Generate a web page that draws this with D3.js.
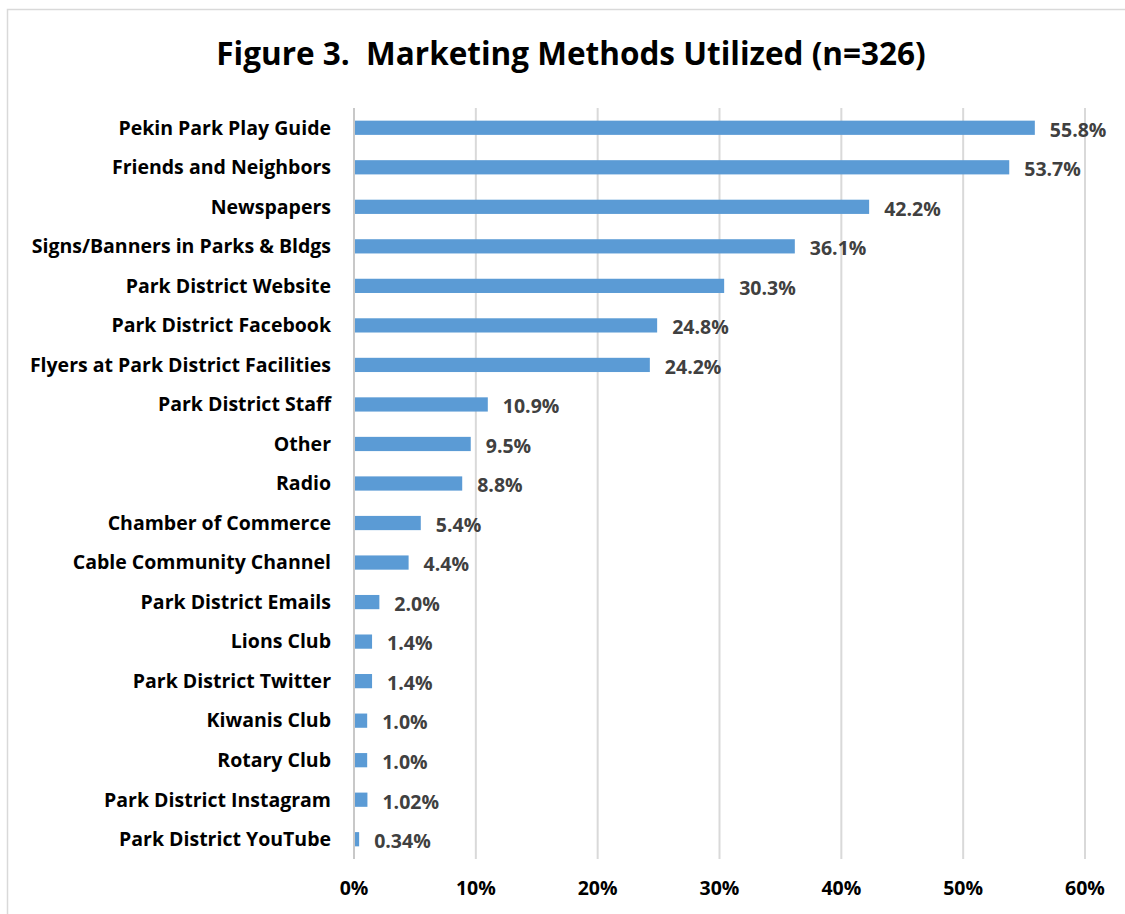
<!DOCTYPE html>
<html>
<head>
<meta charset="utf-8">
<script src="https://cdn.jsdelivr.net/npm/d3@7"></script>
<style>
  body { margin: 0; background: #fff; }
  svg { display: block; font-family: "Open Sans", Lato, sans-serif; font-weight: bold; }
</style>
</head>
<body>
<div id="chart"></div>
<script>
const categories = [
  'Pekin Park Play Guide', 'Friends and Neighbors', 'Newspapers',
  'Signs/Banners in Parks & Bldgs', 'Park District Website', 'Park District Facebook',
  'Flyers at Park District Facilities', 'Park District Staff', 'Other', 'Radio',
  'Chamber of Commerce', 'Cable Community Channel', 'Park District Emails',
  'Lions Club', 'Park District Twitter', 'Kiwanis Club', 'Rotary Club',
  'Park District Instagram', 'Park District YouTube'
];
const values = [55.8, 53.7, 42.2, 36.1, 30.3, 24.8, 24.2, 10.9, 9.5, 8.8, 5.4, 4.4, 2.0, 1.4, 1.4, 1.0, 1.0, 1.02, 0.34];
const valueLabels = ['55.8%', '53.7%', '42.2%', '36.1%', '30.3%', '24.8%', '24.2%', '10.9%', '9.5%', '8.8%',
  '5.4%', '4.4%', '2.0%', '1.4%', '1.4%', '1.0%', '1.0%', '1.02%', '0.34%'];
const xTicks = [0, 10, 20, 30, 40, 50, 60];

const width = 1125, height = 914;
const margin = { top: 108, left: 354, right: 40, bottom: 55 };

const svg = d3.select('#chart').append('svg')
  .attr('width', width)
  .attr('height', height);

// outer chart border (only top and left show in the crop)
svg.append('rect')
  .attr('x', 7.5).attr('y', 9.5)
  .attr('width', width + 10).attr('height', height + 10)
  .attr('fill', 'none')
  .attr('stroke', '#d9d9d9')
  .attr('stroke-width', 1.5);

svg.append('text')
  .attr('x', 571).attr('y', 65)
  .attr('text-anchor', 'middle')
  .attr('font-size', 31.5)
  .attr('fill', '#000')
  .style('white-space', 'pre')
  .text('Figure 3.  Marketing Methods Utilized (n=326)');

const x = d3.scaleLinear().domain([0, 60]).range([margin.left, 1085]);
const y = d3.scaleBand().domain(categories)
  .range([margin.top, height - margin.bottom])
  .paddingInner(0.64).paddingOuter(0.32);

// gridlines
svg.append('g')
  .selectAll('line')
  .data(xTicks)
  .join('line')
  .attr('x1', d => x(d)).attr('x2', d => x(d))
  .attr('y1', margin.top).attr('y2', height - margin.bottom)
  .attr('stroke', d => d === 0 ? '#c8c8c8' : '#d9d9d9')
  .attr('stroke-width', 2);

// x tick labels
svg.append('g')
  .selectAll('text')
  .data(xTicks)
  .join('text')
  .attr('x', d => x(d))
  .attr('y', 895)
  .attr('text-anchor', 'middle')
  .attr('font-size', 19.5)
  .attr('fill', '#000')
  .text(d => d + '%');

// bars
svg.append('g')
  .selectAll('rect')
  .data(values)
  .join('rect')
  .attr('x', x(0) + 1)
  .attr('y', (d, i) => y(categories[i]))
  .attr('width', d => x(d) - x(0))
  .attr('height', y.bandwidth())
  .attr('fill', '#5b9bd5');

// category labels
svg.append('g')
  .selectAll('text')
  .data(categories)
  .join('text')
  .attr('x', 331)
  .attr('y', d => y(d) + y.bandwidth() / 2)
  .attr('dy', '0.35em')
  .attr('text-anchor', 'end')
  .attr('font-size', 19.5)
  .attr('fill', '#000')
  .text(d => d);

// value labels
svg.append('g')
  .selectAll('text')
  .data(values)
  .join('text')
  .attr('x', d => x(d) + 16)
  .attr('y', (d, i) => y(categories[i]) + y.bandwidth() / 2 + 2)
  .attr('dy', '0.35em')
  .attr('font-size', 19.5)
  .attr('fill', '#404040')
  .text((d, i) => valueLabels[i]);
</script>
</body>
</html>
